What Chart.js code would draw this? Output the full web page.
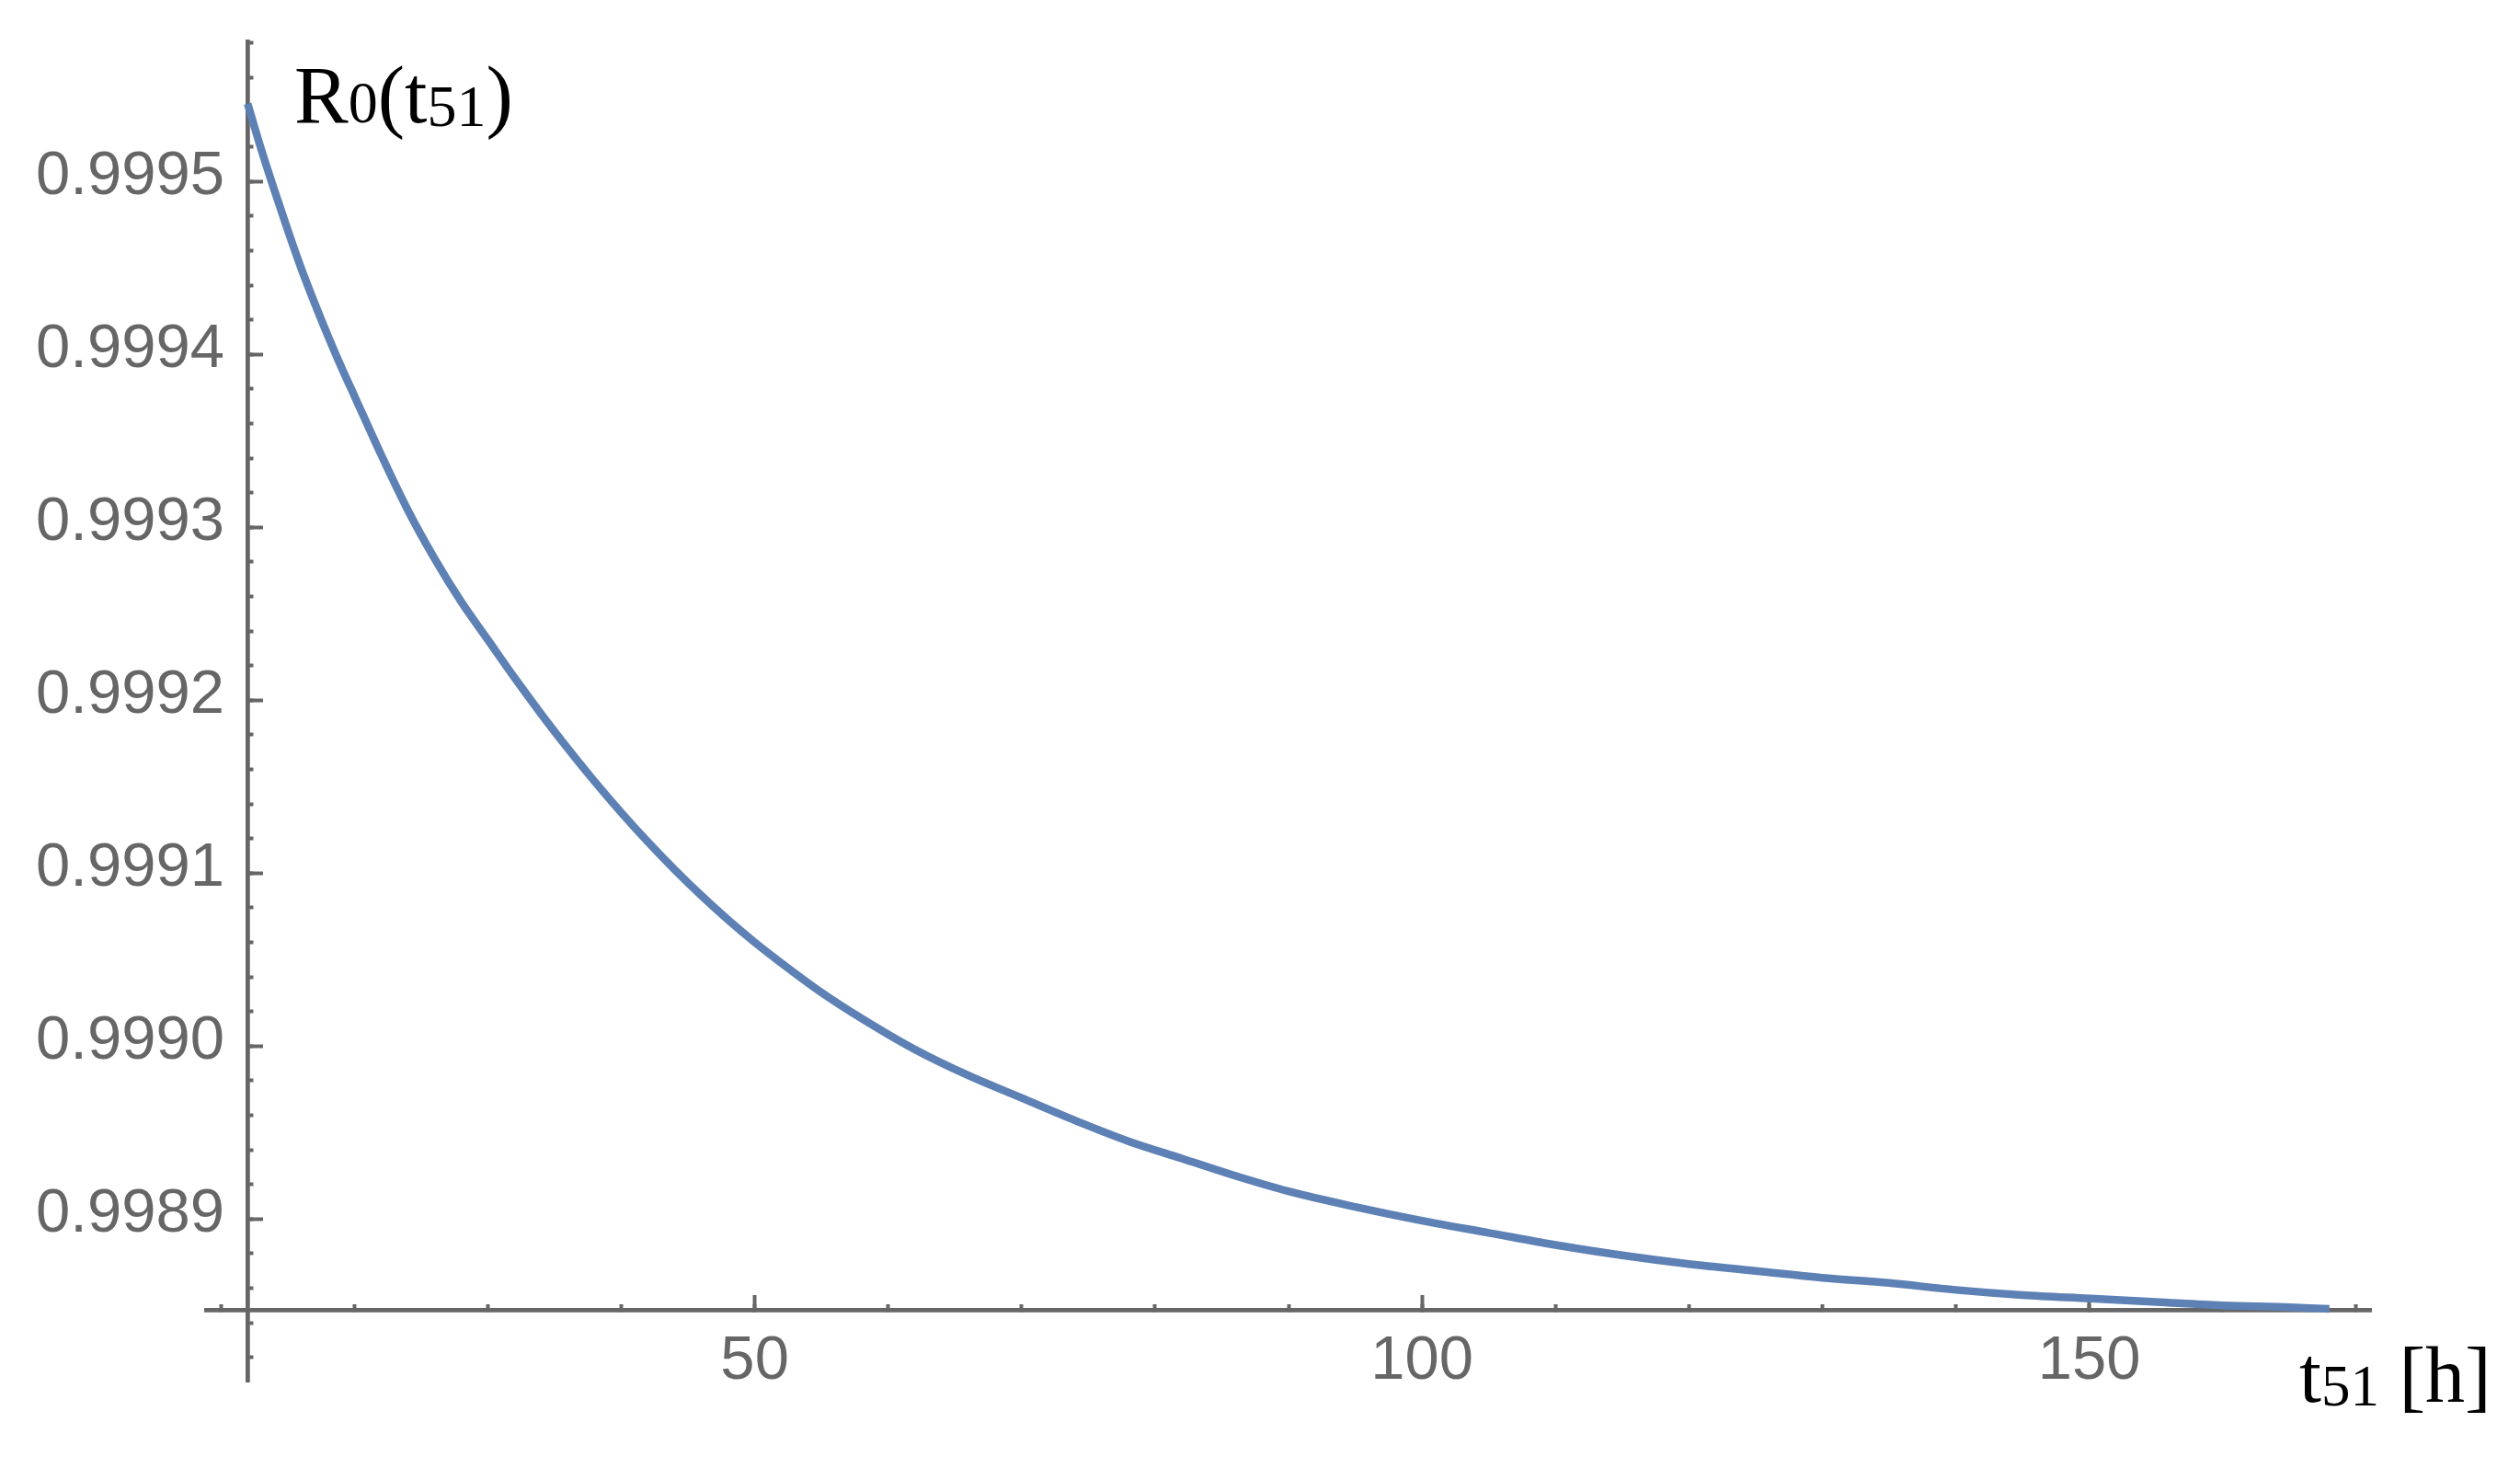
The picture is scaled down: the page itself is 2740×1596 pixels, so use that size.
<!DOCTYPE html>
<html>
<head>
<meta charset="utf-8">
<script src="https://cdn.jsdelivr.net/npm/chart.js@4.4.1/dist/chart.umd.min.js"></script>
<style>
  html, body { margin: 0; padding: 0; background: #ffffff; }
  #wrap { width: 2740px; height: 1596px; position: relative; }
</style>
</head>
<body>
<div id="wrap"><canvas id="c" width="2740" height="1596"></canvas></div>
<script>
// ---- data ----
const tHours = [12,13,14,15,16,17,18,19,20,
  22,24,26,28,30,32,34,36,38,40,42,44,46,48,50,52,
  55,58,
  62,66,70,74,78,82,86,90,
  95,100,105,110,115,120,125,130,135,140,145,150,155,160,165,
  168];
const reliability = [0.999545,0.999519,0.999495,0.999472,0.999450,0.999430,0.999411,0.999393,0.999376,
  0.999342,0.999310,0.999282,0.999257,0.999235,0.999213,0.999192,0.999172,0.999153,0.999135,0.999118,0.999102,0.999087,0.999073,0.999060,0.999048,
  0.999031,0.999016,
  0.998998,0.998983,0.998970,0.998957,0.998945,0.998935,0.998925,0.998916,
  0.998907,0.998899,0.998892,0.998885,0.998879,0.998874,0.998870,0.998866,0.998863,0.998859,0.998856,0.998854,0.998852,0.998850,0.998849,
  0.998848];

// tick values and labels
const xTickValues = [50, 100, 150];
const xTickLabels = ['50', '100', '150'];
const yTickValues = [0.9989, 0.9990, 0.9991, 0.9992, 0.9993, 0.9994, 0.9995];
const yTickLabels = ['0.9989', '0.9990', '0.9991', '0.9992', '0.9993', '0.9994', '0.9995'];

// axis captions (text pieces: text, font size, baseline shift)
const yCaptionParts = [['R', 88, 0], ['0', 64, 0], ['(', 88, 0], ['t', 88, 0], ['51', 64, 4], [')', 88, 0]];
const xCaptionParts = [['t', 86, 0], ['51', 63, 4], [' ', 86, 0], ['[', 86, 0], ['h', 86, 0], [']', 86, 0]];

// ---- plot range / style settings ----
const X_MIN = 8.88, X_MAX = 171.12;
const Y_MIN = 0.998806, Y_MAX = 0.999581;
const X_AXIS_AT = 0.9988473;   // y value where the horizontal axis crosses
const Y_AXIS_AT = 12;          // x value where the vertical axis crosses
const Y_LABEL_AT = 10.26;      // x value of right edge of y labels
const X_LABEL_AT = 0.99883855; // y value of top of x labels
const AXIS_COLOR = '#666666';
const LABEL_FONT = { family: "'Liberation Sans', Arial, sans-serif", size: 67 };

const points = tHours.map((t, i) => ({ x: t, y: reliability[i] }));

const setTicks = (values) => (scale) => { scale.ticks = values.map(v => ({ value: v })); };

const captionPlugin = {
  id: 'captions',
  afterDraw(chart) {
    const ctx = chart.ctx;
    const caps = [
      { parts: yCaptionParts, x: 320, y: 133 },
      { parts: xCaptionParts, x: 2500, y: 1524 }
    ];
    ctx.save();
    ctx.fillStyle = '#000000';
    ctx.textAlign = 'left';
    ctx.textBaseline = 'alphabetic';
    for (const cap of caps) {
      let x = cap.x;
      for (const [txt, size, dy] of cap.parts) {
        ctx.font = size + "px 'Liberation Serif', 'Times New Roman', serif";
        ctx.fillText(txt, x, cap.y + dy);
        x += ctx.measureText(txt).width;
      }
    }
    ctx.restore();
  }
};

const tickAxisBase = (axis, pos, tl, extra) => Object.assign({
  type: 'linear',
  axis: axis,
  position: pos,
  min: axis === 'x' ? X_MIN : Y_MIN,
  max: axis === 'x' ? X_MAX : Y_MAX,
  border: { display: true, color: AXIS_COLOR, width: 4.5 },
  grid: { display: true, drawOnChartArea: false, drawTicks: true, tickLength: tl, tickWidth: 4, tickColor: AXIS_COLOR },
  ticks: { display: false, includeBounds: false }
}, extra || {});

new Chart(document.getElementById('c'), {
  type: 'line',
  data: {
    datasets: [{
      data: points,
      xAxisID: 'x',
      yAxisID: 'y',
      borderColor: '#5E81B5',
      borderWidth: 8.5,
      pointRadius: 0,
      fill: false,
      cubicInterpolationMode: 'monotone'
    }]
  },
  options: {
    responsive: false,
    animation: false,
    events: [],
    layout: { padding: { left: 224, top: 45, right: 162, bottom: 94 } },
    plugins: { legend: { display: false }, tooltip: { enabled: false }, title: { display: false } },
    scales: {
      x: tickAxisBase('x', { y: X_AXIS_AT }, -18.5, { afterBuildTicks: setTicks(xTickValues) }),
      xMinor: tickAxisBase('x', { y: X_AXIS_AT }, -8.5, { ticks: { display: false, includeBounds: false, stepSize: 10 } }),
      y: tickAxisBase('y', { x: Y_AXIS_AT }, -19, { afterBuildTicks: setTicks(yTickValues) }),
      yMinor: tickAxisBase('y', { x: Y_AXIS_AT }, -8.5, { ticks: { display: false, includeBounds: false, stepSize: 0.00002 } }),
      xLab: {
        type: 'linear', axis: 'x', position: { y: X_LABEL_AT }, min: X_MIN, max: X_MAX,
        border: { display: false }, grid: { display: false, drawTicks: false },
        afterBuildTicks: setTicks(xTickValues),
        ticks: { display: true, autoSkip: false, padding: 0, color: AXIS_COLOR, font: LABEL_FONT, maxRotation: 0,
          callback: (v, i) => xTickLabels[i] }
      },
      yLab: {
        type: 'linear', axis: 'y', position: { x: Y_LABEL_AT }, min: Y_MIN, max: Y_MAX,
        border: { display: false }, grid: { display: false, drawTicks: false },
        afterBuildTicks: setTicks(yTickValues),
        ticks: { display: true, autoSkip: false, padding: 0, color: AXIS_COLOR, font: LABEL_FONT, labelOffset: -5,
          callback: (v, i) => yTickLabels[i] }
      }
    }
  },
  plugins: [captionPlugin]
});
</script>
</body>
</html>
